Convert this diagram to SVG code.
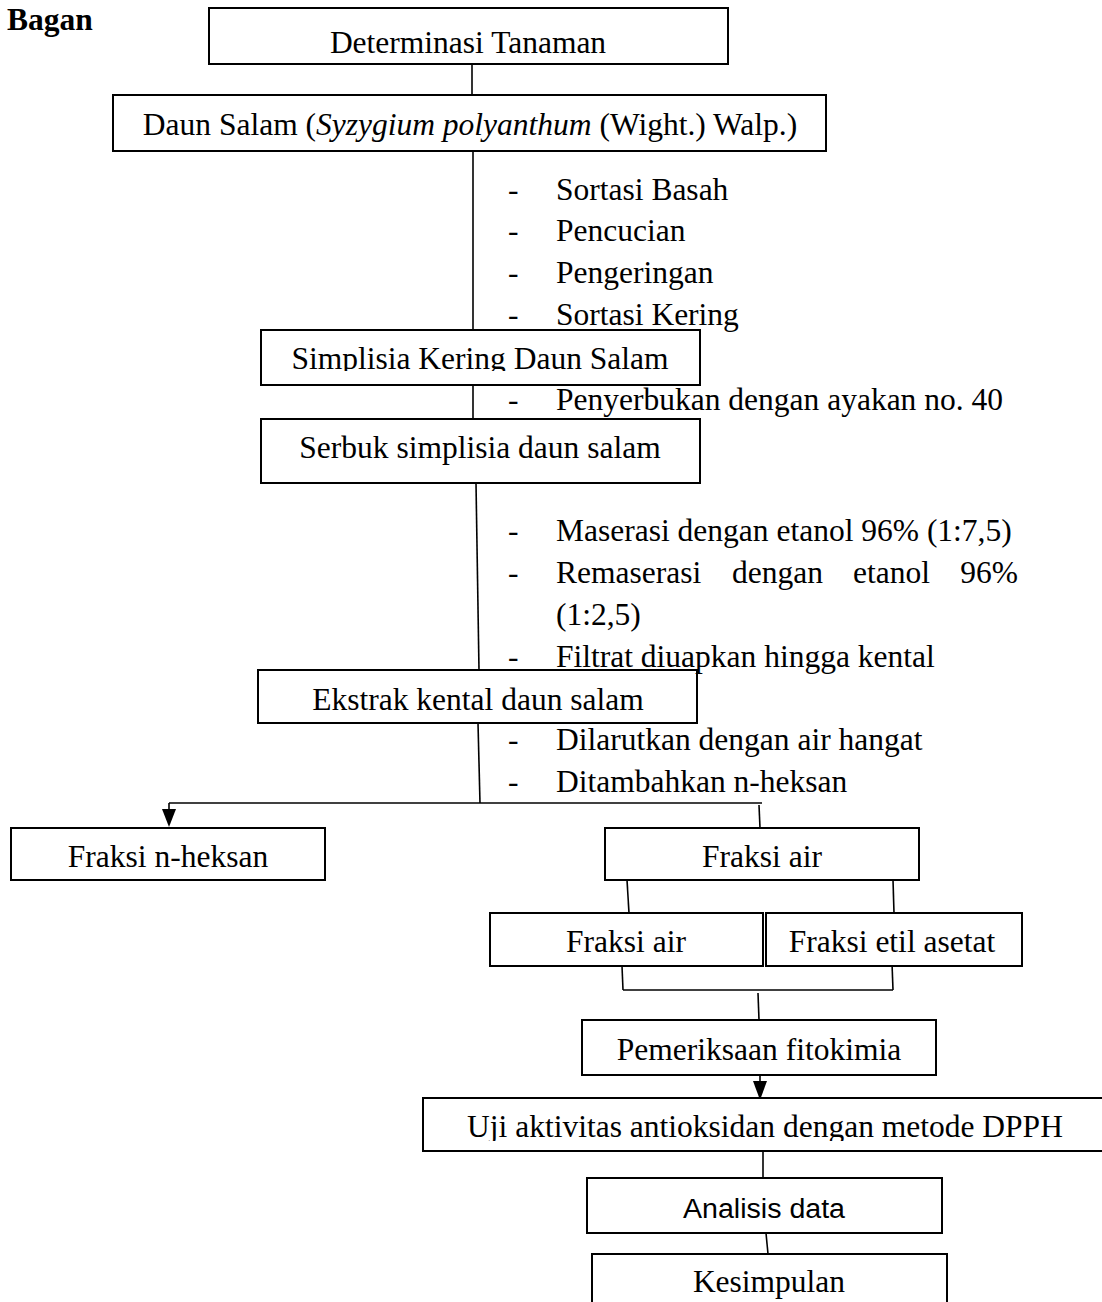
<svg xmlns="http://www.w3.org/2000/svg" width="1102" height="1302" viewBox="0 0 1102 1302">
<style>
.t{font-family:"Liberation Serif","Times New Roman",serif;font-size:31.5px;fill:#000}
.c{text-anchor:middle}
.b{fill:#fff;stroke:#000;stroke-width:2}
.l{stroke:#000;stroke-width:1.6;fill:none}
.s{font-family:"Liberation Sans",Arial,sans-serif;font-size:27px;fill:#000;text-anchor:middle}
</style>
<defs>
<marker id="ah" markerWidth="14" markerHeight="18" refX="7" refY="17" orient="auto-start-reverse" markerUnits="userSpaceOnUse" viewBox="0 0 14 18">
<path d="M0,0 L14,0 L7,18 Z" fill="#000" transform="rotate(0)"/>
</marker>
<clipPath id="c3"><rect x="262" y="331" width="437" height="40"/></clipPath>
<clipPath id="c11"><rect x="424" y="1099" width="680" height="42"/></clipPath>
</defs>
<rect width="1102" height="1302" fill="#fff"/>
<text class="t" x="7" y="30" font-weight="bold">Bagan</text>

<g id="connectors">
<line class="l" x1="472" y1="64" x2="472" y2="95"/>
<line class="l" x1="473" y1="151" x2="473" y2="330"/>
<line class="l" x1="473" y1="385" x2="473" y2="419"/>
<line class="l" x1="476" y1="483" x2="479" y2="670"/>
<line class="l" x1="478" y1="723" x2="480" y2="803"/>
<line class="l" x1="169" y1="803" x2="762" y2="803" stroke-width="2.2"/>
<path d="M169,803 L169,810" class="l" stroke-width="2"/>
<path d="M162,809 L176,809 L169,827 Z" fill="#000"/>
<line class="l" x1="759" y1="805" x2="760" y2="828"/>
<line class="l" x1="627" y1="880" x2="629" y2="913"/>
<line class="l" x1="893" y1="880" x2="894" y2="913"/>
<line class="l" x1="622" y1="966" x2="623" y2="990"/>
<line class="l" x1="892" y1="963" x2="893" y2="990"/>
<line class="l" x1="623" y1="990" x2="893" y2="990" stroke-width="2"/>
<line class="l" x1="758" y1="993" x2="759" y2="1020"/>
<line class="l" x1="760" y1="1075" x2="760" y2="1082"/>
<path d="M753,1081 L767,1081 L760,1100 Z" fill="#000"/>
<line class="l" x1="763" y1="1151" x2="763" y2="1178"/>
<line class="l" x1="766" y1="1233" x2="768" y2="1254"/>
</g>

<g id="n1"><rect class="b" x="209" y="8" width="519" height="56"/><text class="t c" x="468" y="53">Determinasi Tanaman</text></g>
<g id="n2"><rect class="b" x="113" y="95" width="713" height="56"/><text class="t c" x="470" y="135">Daun Salam (<tspan font-style="italic">Syzygium polyanthum</tspan> (Wight.) Walp.)</text></g>

<g id="notes1">
<text class="t" x="508" y="200">-</text><text class="t" x="556" y="200">Sortasi Basah</text>
<text class="t" x="508" y="241">-</text><text class="t" x="556" y="241">Pencucian</text>
<text class="t" x="508" y="283">-</text><text class="t" x="556" y="283">Pengeringan</text>
</g>
<g id="n3"><rect class="b" x="261" y="330" width="439" height="55"/><text class="t c" x="480" y="369" clip-path="url(#c3)">Simplisia Kering Daun Salam</text></g>
<g id="notes1b">
<text class="t" x="508" y="325">-</text><text class="t" x="556" y="325">Sortasi Kering</text>
<text class="t" x="508" y="410">-</text><text class="t" x="556" y="410">Penyerbukan dengan ayakan no. 40</text>
</g>
<g id="n4"><rect class="b" x="261" y="419" width="439" height="64"/><text class="t c" x="480" y="458">Serbuk simplisia daun salam</text></g>

<g id="notes2">
<text class="t" x="508" y="541">-</text><text class="t" x="556" y="541">Maserasi dengan etanol 96% (1:7,5)</text>
<text class="t" x="508" y="583">-</text><text class="t" x="556" y="583">Remaserasi</text><text class="t" x="732" y="583">dengan</text><text class="t" x="853" y="583">etanol</text><text class="t" x="1018" y="583" text-anchor="end">96%</text>
<text class="t" x="556" y="625">(1:2,5)</text>
</g>
<g id="n5"><rect class="b" x="258" y="670" width="439" height="53"/><text class="t c" x="478" y="710">Ekstrak kental daun salam</text></g>
<g id="notes3">
<text class="t" x="508" y="667">-</text><text class="t" x="556" y="667">Filtrat diuapkan hingga kental</text>
<text class="t" x="508" y="750">-</text><text class="t" x="556" y="750">Dilarutkan dengan air hangat</text>
<text class="t" x="508" y="792">-</text><text class="t" x="556" y="792">Ditambahkan n-heksan</text>
</g>

<g id="n6"><rect class="b" x="11" y="828" width="314" height="52"/><text class="t c" x="168" y="867">Fraksi n-heksan</text></g>
<g id="n7"><rect class="b" x="605" y="828" width="314" height="52"/><text class="t c" x="762" y="867">Fraksi air</text></g>
<g id="n8"><rect class="b" x="490" y="913" width="273" height="53"/><text class="t c" x="626" y="952">Fraksi air</text></g>
<g id="n9"><rect class="b" x="766" y="913" width="256" height="53"/><text class="t c" x="892" y="952">Fraksi etil asetat</text></g>
<g id="n10"><rect class="b" x="582" y="1020" width="354" height="55"/><text class="t c" x="759" y="1060">Pemeriksaan fitokimia</text></g>
<g id="n11"><rect class="b" x="423" y="1098" width="690" height="53"/><text class="t c" x="765" y="1137" clip-path="url(#c11)">Uji aktivitas antioksidan dengan metode DPPH</text></g>
<g id="n12"><rect class="b" x="587" y="1178" width="355" height="55"/><text class="s" x="764" y="1218" textLength="162" lengthAdjust="spacingAndGlyphs">Analisis data</text></g>
<g id="n13"><rect class="b" x="592" y="1254" width="355" height="60"/><text class="t c" x="769" y="1292">Kesimpulan</text></g>
</svg>
